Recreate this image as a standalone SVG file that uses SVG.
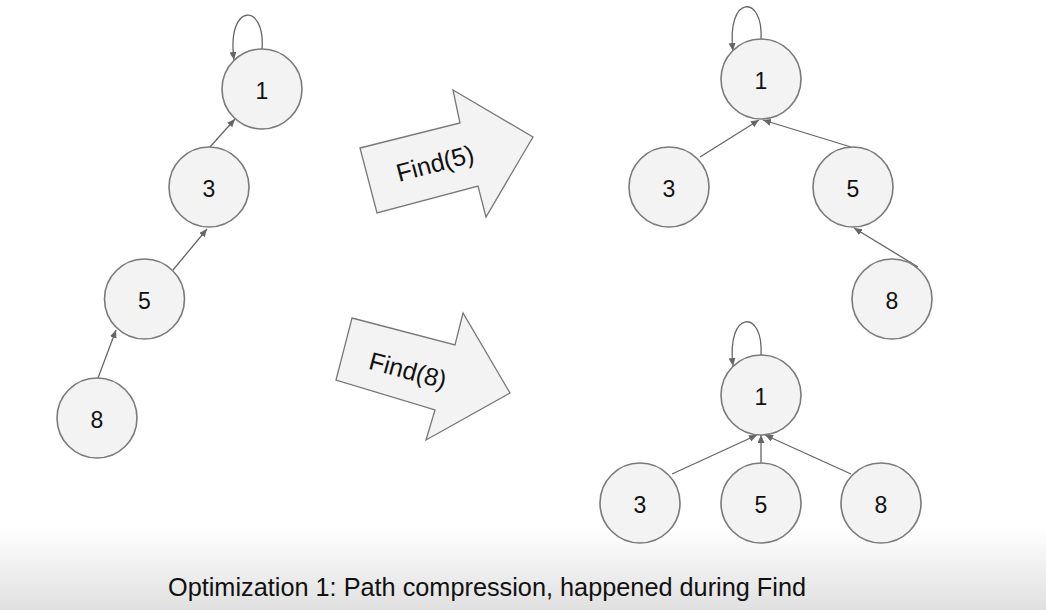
<svg xmlns="http://www.w3.org/2000/svg" width="1046" height="610" viewBox="0 0 1046 610">
<defs>
<linearGradient id="bar" x1="0" y1="0" x2="0" y2="1">
<stop offset="0" stop-color="#ffffff"/>
<stop offset="1" stop-color="#e0e0e0"/>
</linearGradient>
<marker id="ah" markerUnits="userSpaceOnUse" markerWidth="9" markerHeight="8" refX="8" refY="3.5" orient="auto">
<path d="M0,0 L8,3.5 L0,7 z" fill="#666"/>
</marker>
<style>
.node circle{fill:#f3f3f3;stroke:#7a7a7a;stroke-width:1.6}
.node text{font-family:"Liberation Sans",Arial,sans-serif;font-size:23px;fill:#111;text-anchor:middle;dominant-baseline:central}
.edge{fill:none;stroke:#666;stroke-width:1.3;marker-end:url(#ah)}
.big{fill:#f3f3f3;stroke:#777;stroke-width:1.3}
.lbl{font-family:"Liberation Sans",Arial,sans-serif;font-size:25px;fill:#111;text-anchor:middle;dominant-baseline:central}
</style>
</defs>
<rect x="0" y="0" width="1046" height="610" fill="#ffffff"/>
<rect x="0" y="528" width="1046" height="82" fill="url(#bar)"/>

<g id="connectors">
<path class="edge" d="M98,378 L116,330"/>
<path class="edge" d="M173,270 L207,229"/>
<path class="edge" d="M210,147 L235,119"/>
<path class="edge" d="M262,50 C266,2 226,2 234,60"/>
<path class="edge" d="M700,157 L759,120"/>
<path class="edge" d="M851,147 L763,120"/>
<path class="edge" d="M918,267 L854,228"/>
<path class="edge" d="M761,40 C764,-6 726,-6 733,51"/>
<path class="edge" d="M672,474 L757,435"/>
<path class="edge" d="M761,463 L761,435"/>
<path class="edge" d="M851,474 L765,435"/>
<path class="edge" d="M761,355 C764,309 726,309 733,366"/>
</g>

<g id="L1" class="node"><circle cx="262" cy="89" r="40"/><text x="262" y="91">1</text></g>
<g id="L3" class="node"><circle cx="209" cy="187" r="40"/><text x="209" y="189">3</text></g>
<g id="L5" class="node"><circle cx="144.5" cy="299" r="40"/><text x="144.5" y="301">5</text></g>
<g id="L8" class="node"><circle cx="97" cy="418" r="40"/><text x="97" y="420">8</text></g>

<g id="A1" class="node"><circle cx="761" cy="79" r="40"/><text x="761" y="81">1</text></g>
<g id="A3" class="node"><circle cx="669" cy="187" r="40"/><text x="669" y="189">3</text></g>
<g id="A5" class="node"><circle cx="853" cy="187" r="40"/><text x="853" y="189">5</text></g>
<g id="A8" class="node"><circle cx="892" cy="299" r="40"/><text x="892" y="301">8</text></g>

<g id="B1" class="node"><circle cx="761" cy="395" r="40"/><text x="761" y="397">1</text></g>
<g id="B3" class="node"><circle cx="640" cy="503" r="40"/><text x="640" y="505">3</text></g>
<g id="B5" class="node"><circle cx="761" cy="503" r="40"/><text x="761" y="505">5</text></g>
<g id="B8" class="node"><circle cx="881" cy="503" r="40"/><text x="881" y="505">8</text></g>

<g id="find5">
<polygon class="big" points="360,148 460,123 453,90 533,137 486,217 478,186 377,213"/>
<text class="lbl" x="435" y="163" transform="rotate(-15 435 163)">Find(5)</text>
</g>
<g id="find8">
<polygon class="big" points="352,318 455,345 463,313 510,393 426,440 435,410 336,380"/>
<text class="lbl" x="408" y="370" transform="rotate(15 408 370)">Find(8)</text>
</g>

<text x="168" y="596" font-family="'Liberation Sans',Arial,sans-serif" font-size="25" fill="#111" textLength="638" lengthAdjust="spacingAndGlyphs">Optimization 1: Path compression, happened during Find</text>
</svg>
